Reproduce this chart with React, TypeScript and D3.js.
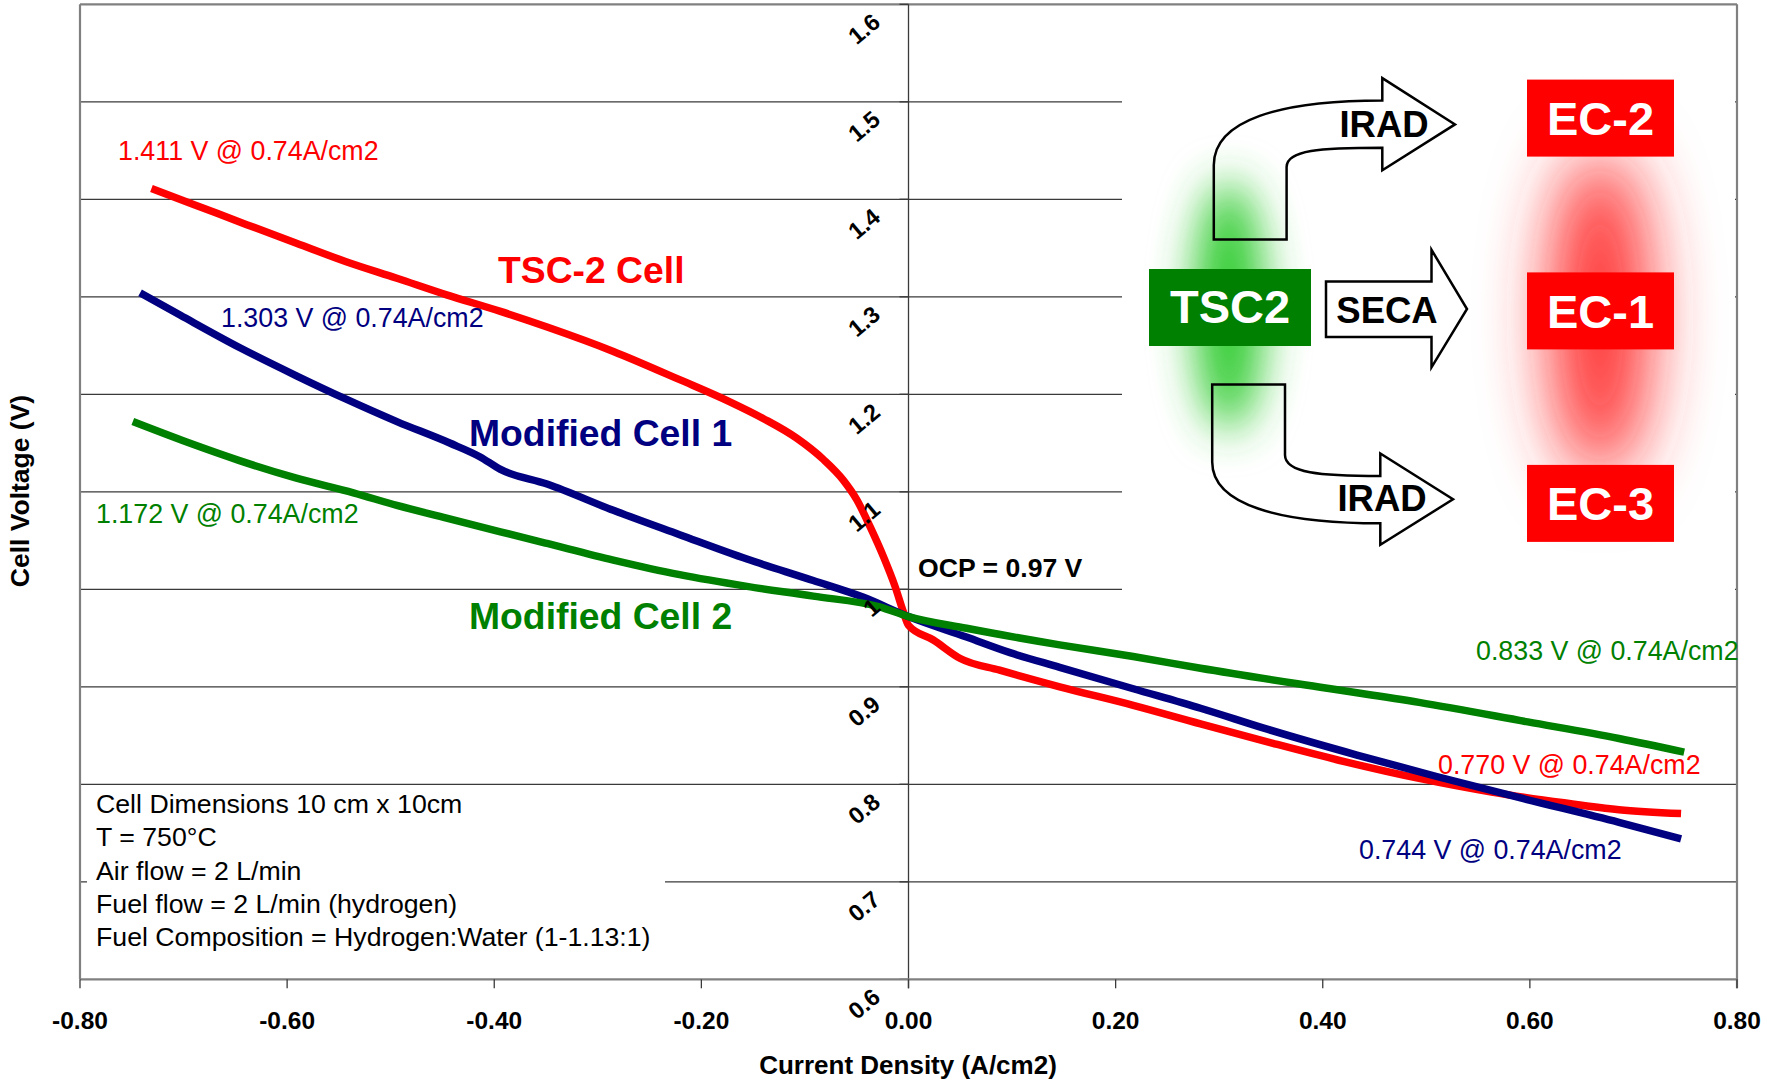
import * as d3 from "d3";

// axis ticks
const xTicks = [-0.8, -0.6, -0.4, -0.2, 0, 0.2, 0.4, 0.6, 0.8];
const yTicks = [0.6, 0.7, 0.8, 0.9, 1.0, 1.1, 1.2, 1.3, 1.4, 1.5, 1.6];

// TSC-2 Cell (red)
const tscCurrent = [-0.731, -0.691, -0.639, -0.591, -0.543, -0.494, -0.446, -0.394, -0.349, -0.285, -0.221, -0.172, -0.14, -0.108, -0.082, -0.063, -0.05, -0.037, -0.024, -0.013, -0.005, 0.0, 0.024, 0.05, 0.088, 0.146, 0.217, 0.282, 0.352, 0.422, 0.493, 0.563, 0.633, 0.686, 0.746];
const tscVoltage = [1.411, 1.395, 1.374, 1.355, 1.336, 1.319, 1.302, 1.285, 1.269, 1.244, 1.215, 1.192, 1.175, 1.155, 1.133, 1.112, 1.092, 1.064, 1.033, 1.003, 0.977, 0.963, 0.948, 0.929, 0.917, 0.9, 0.881, 0.862, 0.842, 0.823, 0.806, 0.792, 0.781, 0.774, 0.77];

// Modified Cell 1 (navy)
const cell1Current = [-0.742, -0.703, -0.646, -0.591, -0.543, -0.494, -0.443, -0.414, -0.394, -0.349, -0.285, -0.221, -0.156, -0.092, -0.044, 0.0, 0.056, 0.098, 0.146, 0.217, 0.282, 0.348, 0.433, 0.51, 0.591, 0.686, 0.746];
const cell1Voltage = [1.304, 1.281, 1.248, 1.219, 1.195, 1.172, 1.15, 1.136, 1.123, 1.108, 1.081, 1.056, 1.031, 1.009, 0.992, 0.972, 0.951, 0.935, 0.92, 0.898, 0.878, 0.856, 0.83, 0.808, 0.786, 0.761, 0.744];

// Modified Cell 2 (green)
const cell2Current = [-0.749, -0.697, -0.646, -0.591, -0.536, -0.494, -0.446, -0.394, -0.349, -0.285, -0.221, -0.156, -0.092, -0.028, 0.0, 0.056, 0.146, 0.217, 0.282, 0.401, 0.493, 0.598, 0.686, 0.749];
const cell2Voltage = [1.172, 1.151, 1.132, 1.114, 1.099, 1.086, 1.073, 1.059, 1.047, 1.03, 1.015, 1.003, 0.993, 0.982, 0.972, 0.96, 0.943, 0.931, 0.919, 0.899, 0.884, 0.864, 0.847, 0.833];

const seriesNames = ["TSC-2 Cell", "Modified Cell 1", "Modified Cell 2"];
const seriesColors = ["#ff0000", "#000080", "#008000"];

const conditions = [
  "Cell Dimensions 10 cm x 10cm",
  "T = 750°C",
  "Air flow = 2 L/min",
  "Fuel flow = 2 L/min (hydrogen)",
  "Fuel Composition = Hydrogen:Water (1-1.13:1)",
];

export default function App() {
  const width = 1767;
  const height = 1081;
  const left = 80;
  const right = 1737;
  const top = 4.3;
  const bottom = 979.3;
  const font = "'Liberation Sans', Arial, Helvetica, sans-serif";

  const x = d3.scaleLinear().domain([-0.8, 0.8]).range([left, right]);
  const y = d3.scaleLinear().domain([0.6, 1.6]).range([bottom, top]);

  const line = d3
    .line<[number, number]>()
    .x((d) => x(d[0]))
    .y((d) => y(d[1]))
    .curve(d3.curveMonotoneX);

  const series = [
    d3.zip(tscCurrent, tscVoltage),
    d3.zip(cell1Current, cell1Voltage),
    d3.zip(cell2Current, cell2Voltage),
  ] as [number, number][][];

  const x0 = x(0);
  const fmtX = (t: number) => d3.format(".2f")(t).replace("\u2212", "-");
  const fmtY = (v: number) => (Math.abs(v - 1) < 1e-9 ? "1" : d3.format(".1f")(v));

  return (
    <svg
      width={width}
      height={height}
      style={{ position: "absolute", left: 0, top: 0, display: "block", background: "#fff" }}
      fontFamily={font}
    >
      <defs>
        <filter id="glowG" x="-200%" y="-100%" width="500%" height="300%">
          <feGaussianBlur stdDeviation="22" />
        </filter>
        <filter id="glowR" x="-200%" y="-100%" width="500%" height="300%">
          <feGaussianBlur stdDeviation="34" />
        </filter>
      </defs>

      {/* gridlines */}
      {yTicks.slice(1, -1).map((v) => (
        <line key={v} x1={left} x2={right} y1={y(v)} y2={y(v)} stroke="#3a3a3a" strokeWidth={1.3} />
      ))}

      {/* white boxes behind the text block and the diagram */}
      <rect x={87} y={788} width={578} height={185} fill="#fff" />
      <rect x={1122} y={6} width={613} height={596} fill="#fff" />

      {/* frame */}
      <line x1={left} x2={right} y1={top} y2={top} stroke="#808080" strokeWidth={2.2} />
      <line x1={left} x2={left} y1={top} y2={bottom} stroke="#808080" strokeWidth={2.2} />
      <line x1={right} x2={right} y1={top} y2={bottom + 9} stroke="#808080" strokeWidth={2.2} />

      {/* y axis at x = 0 */}
      <line x1={x0} x2={x0} y1={top} y2={bottom + 9} stroke="#3a3a3a" strokeWidth={1.3} />
      {yTicks.map((v) => (
        <line key={v} x1={x0 - 9} x2={x0} y1={y(v)} y2={y(v)} stroke="#3a3a3a" strokeWidth={1.3} />
      ))}

      {/* x axis */}
      <line x1={left} x2={right} y1={bottom} y2={bottom} stroke="#808080" strokeWidth={2.2} />
      {xTicks.map((t) => (
        <g key={t}>
          <line x1={x(t)} x2={x(t)} y1={bottom} y2={bottom + 9} stroke="#3a3a3a" strokeWidth={1.3} />
          <text x={x(t)} y={1029} textAnchor="middle" fontSize={24.5} fontWeight="bold">
            {fmtX(t)}
          </text>
        </g>
      ))}

      {/* curves */}
      {series.map((pts, i) => (
        <path
          key={seriesNames[i]}
          d={line(pts) || ""}
          fill="none"
          stroke={seriesColors[i]}
          strokeWidth={7.5}
        />
      ))}

      {/* rotated y tick labels */}
      {yTicks.map((v) => (
        <text
          key={v}
          transform={`translate(${x0 - 32},${y(v) + 14}) rotate(-40)`}
          textAnchor="end"
          dy="0.35em"
          fontSize={23.5}
          fontWeight="bold"
        >
          {fmtY(v)}
        </text>
      ))}

      {/* axis titles */}
      <text x={908} y={1074} textAnchor="middle" fontSize={26} fontWeight="bold">
        Current Density (A/cm2)
      </text>
      <text transform="translate(20,491) rotate(-90)" textAnchor="middle" dy="0.35em" fontSize={26.5} fontWeight="bold">
        Cell Voltage (V)
      </text>

      {/* series annotations */}
      <text x={118} y={160} fontSize={26.8} fill={seriesColors[0]}>1.411 V @ 0.74A/cm2</text>
      <text x={221} y={327} fontSize={26.8} fill={seriesColors[1]}>1.303 V @ 0.74A/cm2</text>
      <text x={96} y={523} fontSize={26.8} fill={seriesColors[2]}>1.172 V @ 0.74A/cm2</text>
      <text x={1476} y={660} fontSize={26.8} fill={seriesColors[2]}>0.833 V @ 0.74A/cm2</text>
      <text x={1438} y={774} fontSize={26.8} fill={seriesColors[0]}>0.770 V @ 0.74A/cm2</text>
      <text x={1359} y={859} fontSize={26.8} fill={seriesColors[1]}>0.744 V @ 0.74A/cm2</text>

      <text x={498} y={283} fontSize={37.3} fontWeight="bold" fill={seriesColors[0]}>{seriesNames[0]}</text>
      <text x={469} y={446} fontSize={37.3} fontWeight="bold" fill={seriesColors[1]}>{seriesNames[1]}</text>
      <text x={469} y={629} fontSize={37.3} fontWeight="bold" fill={seriesColors[2]}>{seriesNames[2]}</text>

      <text x={918} y={577} fontSize={26.6} fontWeight="bold">OCP = 0.97 V</text>

      {/* test conditions */}
      {conditions.map((c, i) => (
        <text key={c} x={96} y={813 + i * 33.3} fontSize={26.7}>
          {c}
        </text>
      ))}

      {/* diagram */}
      <ellipse cx={1229} cy={306} rx={35} ry={125} fill="#33cc33" filter="url(#glowG)" />
      <ellipse cx={1600} cy={315} rx={48} ry={165} fill="#ff2a2a" filter="url(#glowR)" />

      <path
        d="M1213.8,239.4 L1213.8,165 C1213.8,120 1280,100.4 1382.3,100.4 L1382.3,78.1 L1455,124.4 L1382.3,170.3 L1382.3,147.7 C1320,147.7 1286.6,150 1286.6,167 L1286.6,239.4 Z"
        fill="none"
        stroke="#000"
        strokeWidth={2.5}
      />
      <path
        d="M1212.2,384.6 L1212.2,462 C1212.2,505 1280,523.3 1380.3,523.3 L1380.3,544.8 L1453,499.3 L1380.3,453.4 L1380.3,476 C1320,476 1285,473 1285,455 L1285,384.6 Z"
        fill="none"
        stroke="#000"
        strokeWidth={2.5}
      />
      <path
        d="M1326,281.4 L1431.5,281.4 L1431.5,249.8 L1467,309 L1431.5,367.4 L1431.5,337 L1326,337 Z"
        fill="#fff"
        stroke="#000"
        strokeWidth={2.5}
      />
      <text x={1384} y={124} textAnchor="middle" dy="0.35em" fontSize={36.5} fontWeight="bold">IRAD</text>
      <text x={1382} y={498} textAnchor="middle" dy="0.35em" fontSize={36.5} fontWeight="bold">IRAD</text>
      <text x={1387} y={310} textAnchor="middle" dy="0.35em" fontSize={36.5} fontWeight="bold">SECA</text>

      <rect x={1149} y={269} width={162} height={77} fill="#008000" />
      <text x={1230} y={307} textAnchor="middle" dy="0.35em" fontSize={47} fontWeight="bold" fill="#fff">TSC2</text>

      {["EC-2", "EC-1", "EC-3"].map((label, i) => {
        const ys = [79.6, 272.4, 464.9];
        return (
          <g key={label}>
            <rect x={1527} y={ys[i]} width={147} height={77} fill="#ff0000" />
            <text x={1600.5} y={ys[i] + 39} textAnchor="middle" dy="0.35em" fontSize={47} fontWeight="bold" fill="#fff">
              {label}
            </text>
          </g>
        );
      })}
    </svg>
  );
}
